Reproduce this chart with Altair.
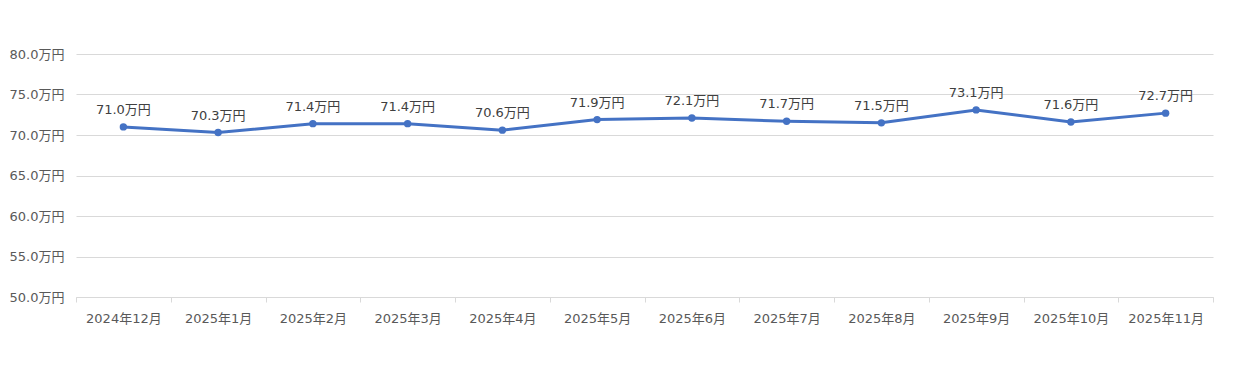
import altair as alt
import pandas as pd

months = ["2024年12月", "2025年1月", "2025年2月", "2025年3月", "2025年4月", "2025年5月",
          "2025年6月", "2025年7月", "2025年8月", "2025年9月", "2025年10月", "2025年11月"]
values = [71.0, 70.3, 71.4, 71.4, 70.6, 71.9, 72.1, 71.7, 71.5, 73.1, 71.6, 72.7]
labels = [f"{v:.1f}万円" for v in values]
y_ticks = [50, 55, 60, 65, 70, 75, 80]

df = pd.DataFrame({"month": months, "value": values, "label": labels})

FONT = "DejaVu Sans, Noto Sans CJK JP"
GRAY = "#595959"

x = alt.X("month:N", sort=months, title=None,
          scale=alt.Scale(paddingInner=0, paddingOuter=0),
          axis=alt.Axis(labelAngle=0, labelFontSize=13, labelColor=GRAY, labelFont=FONT,
                        labelPadding=10, tickBand="extent", tickSize=5, tickColor="#d9d9d9",
                        domainColor="#d9d9d9", grid=False))
y = alt.Y("value:Q", title=None,
          scale=alt.Scale(domain=[50, 80], nice=False, zero=False),
          axis=alt.Axis(values=y_ticks, labelExpr="format(datum.value, '.1f') + '万円'",
                        labelFontSize=13, labelColor=GRAY, labelFont=FONT, labelPadding=12,
                        ticks=False, domain=False, gridColor="#d9d9d9", gridWidth=1))

base = alt.Chart(df).encode(x=x, y=y)
line = base.mark_line(color="#4472C4", strokeWidth=3)
pts = base.mark_point(filled=True, color="#4472C4", size=55, opacity=1)
txt = base.mark_text(dy=-17, fontSize=13, color="#404040", font=FONT).encode(text="label:N")

chart = (line + pts + txt).properties(
    width=1137, height=243,
    autosize=alt.AutoSizeParams(type="none"),
    padding={"left": 68, "top": 46, "right": 19, "bottom": 64},
).configure(background="white").configure_view(stroke=None)

chart.save("out.html", embed_options={"renderer": "svg", "actions": False})
